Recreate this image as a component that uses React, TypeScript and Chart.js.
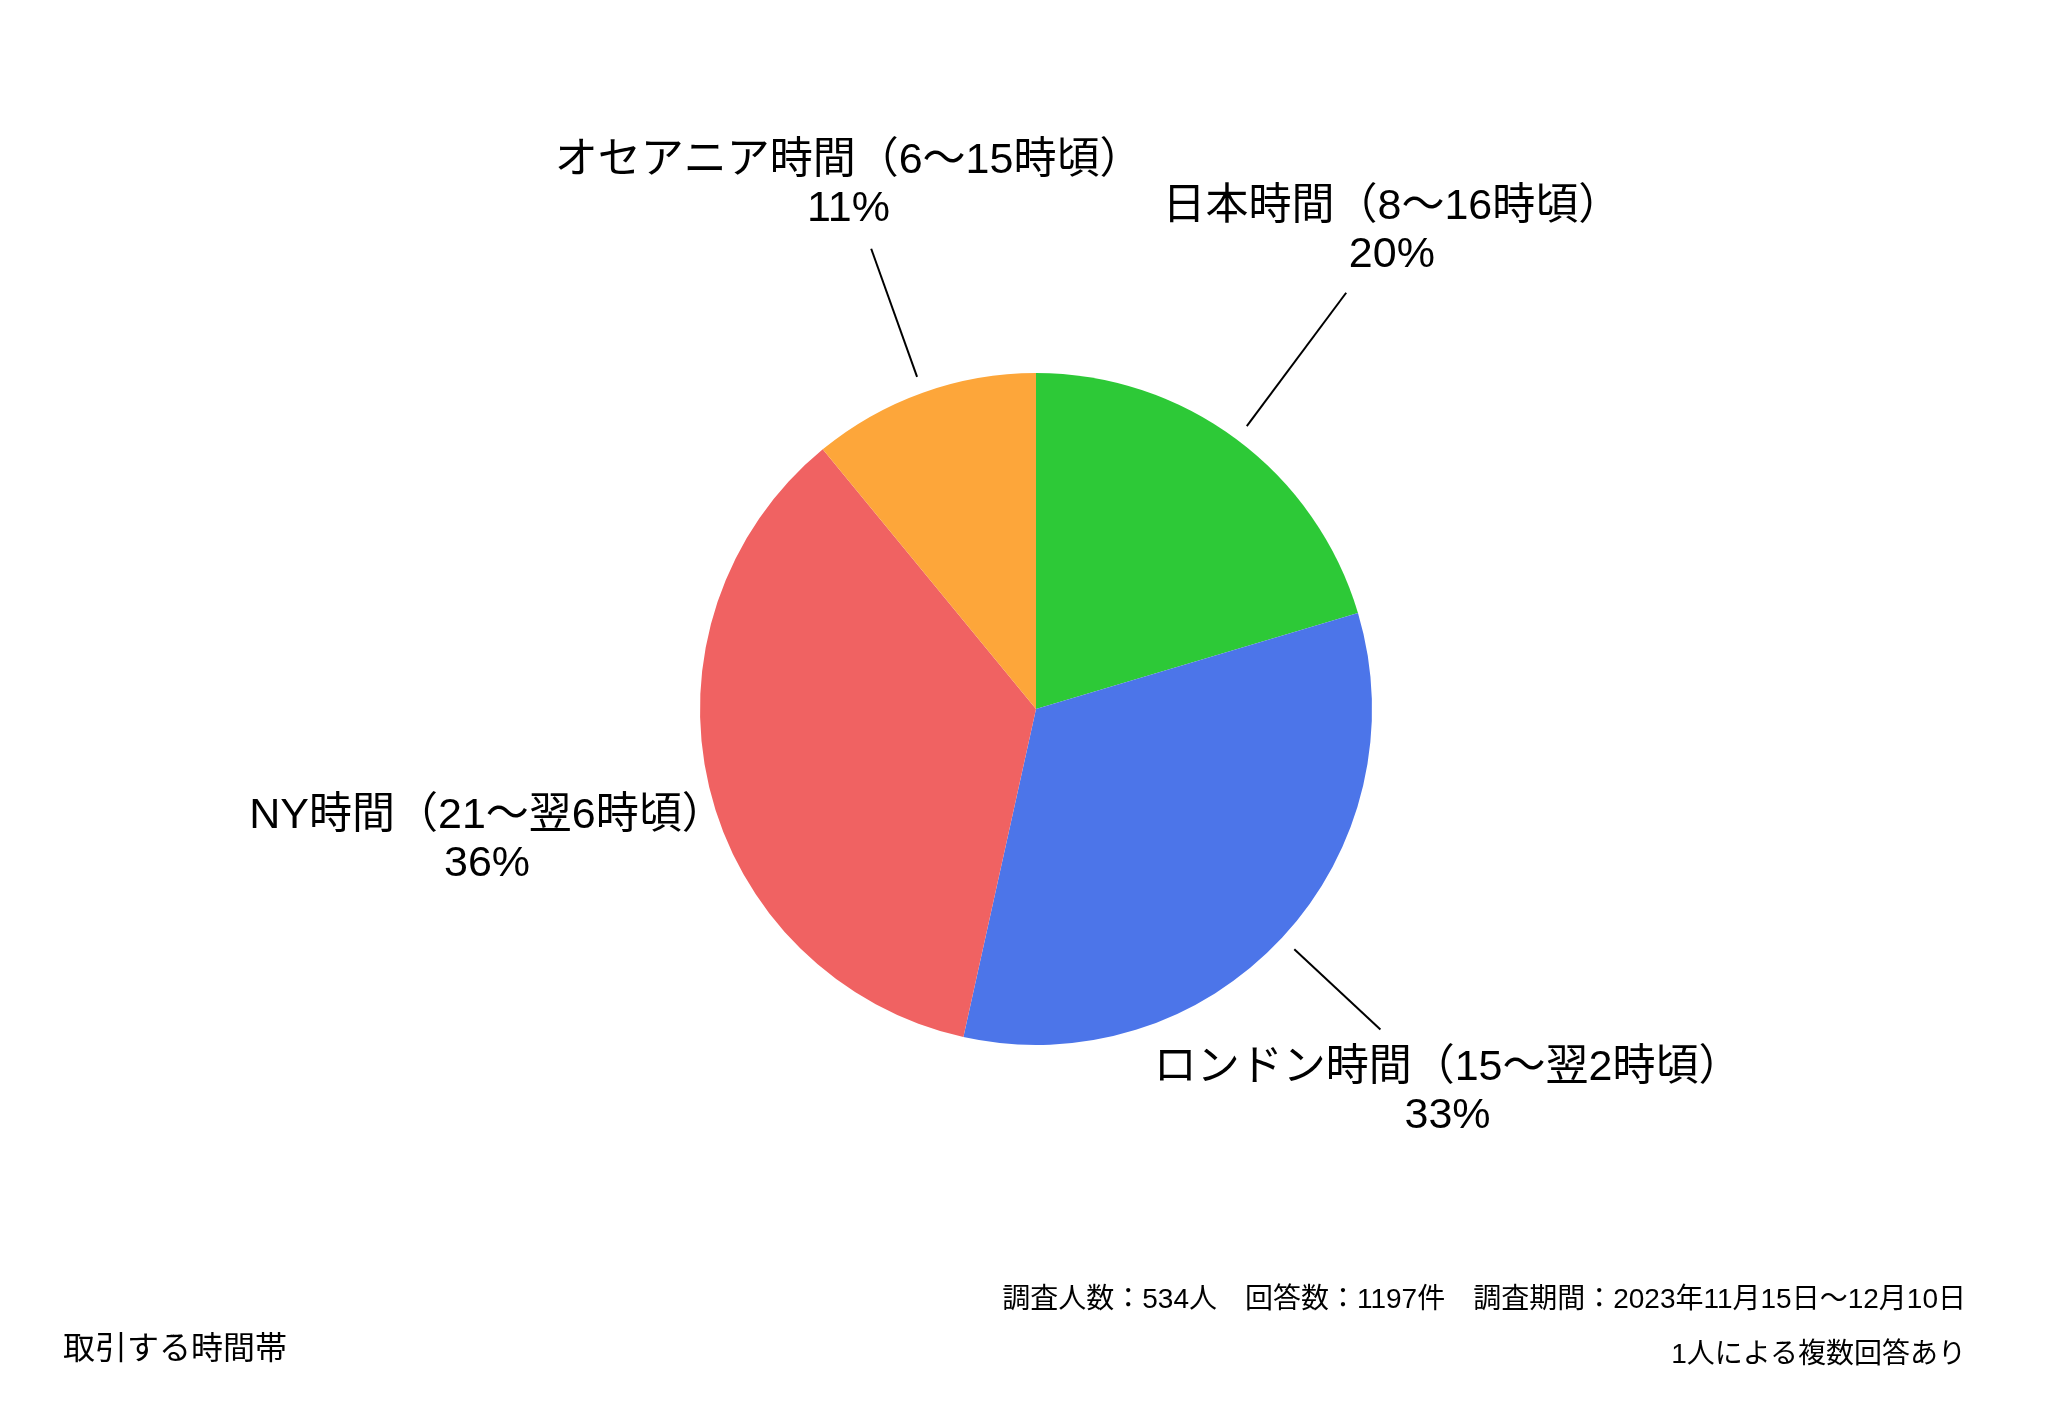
import React, { useEffect, useRef } from "react";
import { Chart, registerables } from "chart.js";

Chart.register(...registerables);

// ---- data ----
const categories = [
  "日本時間（8〜16時頃）",
  "ロンドン時間（15〜翌2時頃）",
  "NY時間（21〜翌6時頃）",
  "オセアニア時間（6〜15時頃）",
];
const counts = [244, 396, 426, 131];
const sliceColors = ["#2DC937", "#4C75E9", "#F06262", "#FDA63A"];

const chartTitle = "取引する時間帯";
const footnotes = [
  "調査人数：534人　回答数：1197件　調査期間：2023年11月15日〜12月10日",
  "1人による複数回答あり",
];

// ---- label layout (multiples of the pie radius) ----
const labelRadius = [1.7725, 1.673, 1.68, 1.655];
const leaderInner = [1.05, 1.05, null, 1.05];
const leaderOuter = [1.545, 1.4, null, 1.455];

const LABEL_FONT = '43px "Liberation Sans", "Noto Sans CJK JP", sans-serif';
const LINE_GAP = 24;

const sliceLabelPlugin = {
  id: "sliceLabels",
  afterDatasetsDraw(chart: any) {
    const ctx = chart.ctx as CanvasRenderingContext2D;
    const meta = chart.getDatasetMeta(0);
    const total = counts.reduce((a, b) => a + b, 0);
    ctx.save();
    meta.data.forEach((arc: any, i: number) => {
      const p = arc.getProps(["x", "y", "startAngle", "endAngle", "outerRadius"], true);
      const mid = (p.startAngle + p.endAngle) / 2;
      const c = Math.cos(mid);
      const s = Math.sin(mid);
      const r = p.outerRadius;
      const inner = leaderInner[i];
      const outer = leaderOuter[i];
      if (inner != null && outer != null) {
        ctx.beginPath();
        ctx.strokeStyle = "#000";
        ctx.lineWidth = 2;
        ctx.moveTo(p.x + c * r * inner, p.y + s * r * inner);
        ctx.lineTo(p.x + c * r * outer, p.y + s * r * outer);
        ctx.stroke();
      }
      const lx = p.x + c * r * labelRadius[i];
      const ly = p.y + s * r * labelRadius[i];
      ctx.font = LABEL_FONT;
      ctx.fillStyle = "#000";
      ctx.textAlign = "center";
      ctx.textBaseline = "middle";
      ctx.fillText(categories[i], lx, ly - LINE_GAP);
      ctx.fillText(Math.round((counts[i] / total) * 100) + "%", lx, ly + LINE_GAP);
    });
    ctx.restore();
  },
};

export default function App() {
  const canvasRef = useRef<HTMLCanvasElement | null>(null);

  useEffect(() => {
    document.body.style.margin = "0";
    const canvas = canvasRef.current;
    if (!canvas) return;
    const chart = new Chart(canvas, {
      type: "pie",
      data: {
        labels: categories,
        datasets: [
          {
            data: counts,
            backgroundColor: sliceColors,
            borderWidth: 0,
            hoverOffset: 0,
            offset: 0,
          },
        ],
      },
      options: {
        responsive: false,
        animation: false,
        devicePixelRatio: 1,
        layout: { padding: { left: 700, right: 698, top: 373, bottom: 367 } },
        plugins: {
          legend: { display: false },
          tooltip: { enabled: false },
          title: { display: false },
        },
        events: [],
      },
      plugins: [sliceLabelPlugin],
    });
    return () => chart.destroy();
  }, []);

  const footFont = '"Liberation Sans", "Noto Sans CJK JP", sans-serif';

  return (
    <div
      style={{
        position: "fixed",
        left: 0,
        top: 0,
        width: 2070,
        height: 1412,
        background: "#fff",
        overflow: "hidden",
      }}
    >
      <canvas ref={canvasRef} width={2070} height={1412} style={{ display: "block" }} />
      <div
        style={{
          position: "absolute",
          left: 63,
          top: 1332,
          fontFamily: footFont,
          fontSize: 32,
          lineHeight: "32px",
          color: "#000",
          whiteSpace: "nowrap",
        }}
      >
        {chartTitle}
      </div>
      <div
        style={{
          position: "absolute",
          right: 104,
          top: 1285,
          fontFamily: footFont,
          fontSize: 28,
          lineHeight: "28px",
          color: "#000",
          whiteSpace: "nowrap",
          textAlign: "right",
        }}
      >
        {footnotes[0]}
      </div>
      <div
        style={{
          position: "absolute",
          right: 104,
          top: 1340,
          fontFamily: footFont,
          fontSize: 28,
          lineHeight: "28px",
          color: "#000",
          whiteSpace: "nowrap",
          textAlign: "right",
        }}
      >
        {footnotes[1]}
      </div>
    </div>
  );
}
